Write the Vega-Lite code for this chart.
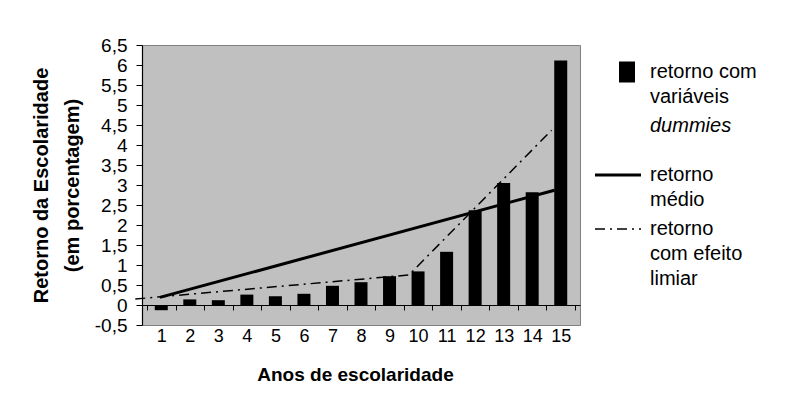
{
  "$schema": "https://vega.github.io/schema/vega-lite/v6.json",
  "autosize": {"type": "none"},
  "padding": {"left": 142, "top": 45, "right": 209, "bottom": 78},
  "width": 438,
  "height": 280,
  "background": "white",
  "config": {
    "view": {"fill": "#C0C0C0", "stroke": "#808080", "strokeWidth": 1},
    "font": "Liberation Sans",
    "axis": {"domainColor": "#000000", "tickColor": "#000000", "labelColor": "#000000", "titleColor": "#000000", "labelFont": "Liberation Sans", "titleFont": "Liberation Sans", "grid": false},
    "legend": {"labelFont": "Liberation Sans", "labelColor": "#000000"}
  },
  "datasets": {
    "dummies": [
      {"ano": 1, "valor": -0.13, "serie": "A"},
      {"ano": 2, "valor": 0.14, "serie": "A"},
      {"ano": 3, "valor": 0.12, "serie": "A"},
      {"ano": 4, "valor": 0.26, "serie": "A"},
      {"ano": 5, "valor": 0.22, "serie": "A"},
      {"ano": 6, "valor": 0.28, "serie": "A"},
      {"ano": 7, "valor": 0.48, "serie": "A"},
      {"ano": 8, "valor": 0.57, "serie": "A"},
      {"ano": 9, "valor": 0.72, "serie": "A"},
      {"ano": 10, "valor": 0.84, "serie": "A"},
      {"ano": 11, "valor": 1.33, "serie": "A"},
      {"ano": 12, "valor": 2.37, "serie": "A"},
      {"ano": 13, "valor": 3.05, "serie": "A"},
      {"ano": 14, "valor": 2.82, "serie": "A"},
      {"ano": 15, "valor": 6.11, "serie": "A"}
    ],
    "medio": [
      {"ano": 0.95, "valor": 0.19, "serie": "B"},
      {"ano": 14.78, "valor": 2.87, "serie": "B"}
    ],
    "limiar": [
      {"ano": 0.09, "valor": 0.15, "serie": "C"},
      {"ano": 9.68, "valor": 0.75, "serie": "C"},
      {"ano": 14.68, "valor": 4.37, "serie": "C"}
    ]
  },
  "resolve": {"axis": {"x": "independent"}},
  "layer": [
    {
      "data": {"name": "dummies"},
      "mark": {"type": "bar", "width": 13, "fill": "#000000"},
      "encoding": {
        "x": {
          "field": "ano", "type": "quantitative",
          "scale": {"domain": [0.5, 15.5], "nice": false, "zero": false},
          "axis": {
            "orient": "bottom",
            "values": [1,2,3,4,5,6,7,8,9,10,11,12,13,14,15],
            "domain": false, "ticks": false, "tickSize": 0,
            "labelFontSize": 18, "labelPadding": 2, "labelBaseline": "top",
            "title": "Anos de escolaridade",
            "titleFontSize": 19, "titleFontWeight": "bold",
            "titleX": 213, "titleY": 55, "titleBaseline": "alphabetic", "titleAlign": "center"
          }
        },
        "y": {
          "field": "valor", "type": "quantitative",
          "scale": {"domain": [-0.5, 6.5], "nice": false, "zero": false},
          "axis": {
            "values": [-0.5,0,0.5,1,1.5,2,2.5,3,3.5,4,4.5,5,5.5,6,6.5],
            "labelExpr": "replace(toString(datum.value), '.', ',')",
            "labelFontSize": 19, "tickSize": 6, "labelPadding": 9, "labelOverlap": false,
            "domain": true, "ticks": true, "domainColor": "#000000", "tickColor": "#000000", "domainWidth": 1.2,
            "title": ["Retorno da Escolaridade", "(em porcentagem)"],
            "titleFontSize": 20, "titleFontWeight": "bold",
            "titleX": -95, "titleY": 140, "titleAngle": -90,
            "titleBaseline": "alphabetic", "titleAlign": "center", "titleLineHeight": 31
          }
        },
        "color": {
          "field": "serie", "type": "nominal",
          "scale": {"domain": ["A", "D", "B", "C"], "range": ["#000000", "#000000", "#000000", "#000000"]},
          "legend": {
            "title": null,
            "orient": "none",
            "legendX": 466,
            "legendY": 17,
            "symbolSize": 2116,
            "labelOffset": 22,
            "labelFontSize": 20,
            "labelBaseline": "top",
            "rowPadding": 9,
            "labelLimit": 200,
            "labelExpr": "datum.value == 'A' ? ['retorno com', 'variáveis'] : datum.value == 'D' ? ['dummies', ''] : datum.value == 'B' ? ['retorno', 'médio'] : ['retorno', 'com efeito', 'limiar']",
            "encode": {
              "labels": {
                "update": {
                  "fontStyle": {"signal": "datum.value == 'D' ? 'italic' : 'normal'"},
                  "lineHeight": {"signal": "datum.value == 'D' ? 20 : 25"},
                  "dy": {"value": -10}
                }
              },
              "symbols": {
                "update": {
                  "x": {"signal": "datum.value == 'A' ? 19 : 10"},
                  "shape": {"signal": "datum.value == 'A' ? 'M-0.76,-1H0.76V1H-0.76Z' : 'stroke'"},
                  "fill": {"signal": "datum.value == 'A' ? '#000000' : 'transparent'"},
                  "stroke": {"value": "#000000"},
                  "strokeWidth": {"signal": "datum.value == 'B' ? 3 : datum.value == 'C' ? 1.5 : 0"},
                  "strokeDash": {"signal": "datum.value == 'C' ? [10, 5, 2, 5] : [1, 0]"},
                  "size": {"signal": "datum.value == 'A' ? 441 : 2116"},
                  "opacity": {"signal": "datum.value == 'D' ? 0 : 1"}
                }
              }
            }
          }
        }
      }
    },
    {
      "data": {"name": "medio"},
      "mark": {"type": "line", "stroke": "#000000", "strokeWidth": 3},
      "encoding": {
        "x": {
          "field": "ano", "type": "quantitative",
          "axis": {
            "orient": "bottom", "offset": -20,
            "values": [0.5,1.5,2.5,3.5,4.5,5.5,6.5,7.5,8.5,9.5,10.5,11.5,12.5,13.5,14.5,15.5],
            "labels": false, "domain": true, "ticks": true, "tickSize": 5, "title": null,
            "domainWidth": 1.2, "tickWidth": 1
          }
        },
        "y": {
          "field": "valor", "type": "quantitative",
          "axis": {
            "values": [-0.5,0,0.5,1,1.5,2,2.5,3,3.5,4,4.5,5,5.5,6,6.5],
            "labelExpr": "replace(toString(datum.value), '.', ',')",
            "labelFontSize": 19, "tickSize": 6, "labelPadding": 9, "labelOverlap": false,
            "domain": true, "ticks": true, "domainColor": "#000000", "tickColor": "#000000", "domainWidth": 1.2,
            "title": ["Retorno da Escolaridade", "(em porcentagem)"],
            "titleFontSize": 20, "titleFontWeight": "bold",
            "titleX": -95, "titleY": 140, "titleAngle": -90,
            "titleBaseline": "alphabetic", "titleAlign": "center", "titleLineHeight": 31
          }
        },
        "color": {"field": "serie", "type": "nominal"}
      }
    },
    {
      "data": {"name": "limiar"},
      "mark": {"type": "line", "stroke": "#000000", "strokeWidth": 1.5, "strokeDash": [10, 5, 2, 5]},
      "encoding": {
        "x": {"field": "ano", "type": "quantitative", "axis": null},
        "y": {
          "field": "valor", "type": "quantitative",
          "axis": {
            "values": [-0.5,0,0.5,1,1.5,2,2.5,3,3.5,4,4.5,5,5.5,6,6.5],
            "labelExpr": "replace(toString(datum.value), '.', ',')",
            "labelFontSize": 19, "tickSize": 6, "labelPadding": 9, "labelOverlap": false,
            "domain": true, "ticks": true, "domainColor": "#000000", "tickColor": "#000000", "domainWidth": 1.2,
            "title": ["Retorno da Escolaridade", "(em porcentagem)"],
            "titleFontSize": 20, "titleFontWeight": "bold",
            "titleX": -95, "titleY": 140, "titleAngle": -90,
            "titleBaseline": "alphabetic", "titleAlign": "center", "titleLineHeight": 31
          }
        },
        "color": {"field": "serie", "type": "nominal"}
      }
    }
  ]
}
